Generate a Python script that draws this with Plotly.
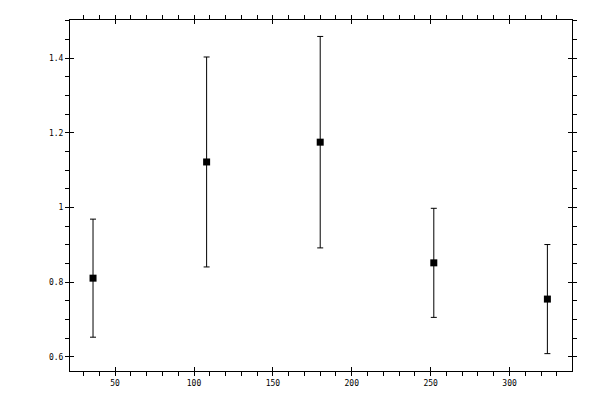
import plotly.graph_objects as go

# values
x_vals = [36, 108, 180, 252, 324]
y_vals = [0.811, 1.122, 1.175, 0.852, 0.755]
y_err = [0.158, 0.281, 0.283, 0.146, 0.146]

font = dict(family="DejaVu Sans Mono", size=8, color="black")

fig = go.Figure()
fig.add_trace(go.Scatter(
    x=x_vals, y=y_vals, mode="markers",
    marker=dict(symbol="square", size=7, color="black"),
    error_y=dict(type="data", array=y_err, color="black", thickness=1, width=3),
    showlegend=False,
))
# empty trace so the overlay axes (inside half of the major ticks) get drawn
fig.add_trace(go.Scatter(x=[], y=[], xaxis="x2", yaxis="y2", showlegend=False))

xr = [21.4, 339.6]
yr = [0.5625, 1.502]

axis_common = dict(showline=True, linecolor="black", linewidth=1, showgrid=False,
                   zeroline=False, tickcolor="black", tickwidth=1, mirror="ticks")

# page body adds ~7px offset, so margins are shifted up/left to compensate
fig.update_layout(
    width=600, height=400,
    margin=dict(l=62, r=36, t=12, b=37, autoexpand=False),
    paper_bgcolor="white", plot_bgcolor="white",
    font=font,
    xaxis=dict(range=xr, dtick=50, tick0=0, ticks="outside", ticklen=4,
               minor=dict(ticks="outside", ticklen=4, dtick=10, tickcolor="black"),
               tickfont=font, **axis_common),
    yaxis=dict(range=yr, dtick=0.2, tick0=0, ticks="outside", ticklen=4,
               minor=dict(ticks="outside", ticklen=4, dtick=0.05, tickcolor="black"),
               tickfont=font, **axis_common),
    xaxis2=dict(range=xr, overlaying="x", anchor="y2", dtick=50, tick0=0,
                ticks="inside", ticklen=4, showticklabels=False, **axis_common),
    yaxis2=dict(range=yr, overlaying="y", anchor="x2", dtick=0.2, tick0=0,
                ticks="inside", ticklen=4, showticklabels=False, **axis_common),
)

fig.write_html("out.html")
